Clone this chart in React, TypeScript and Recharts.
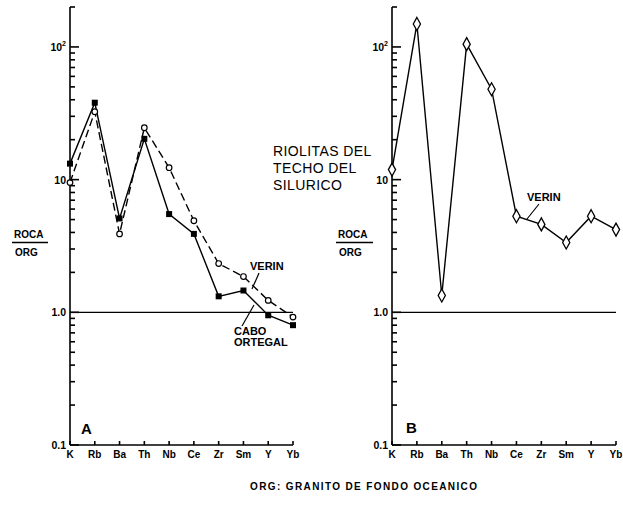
import React from 'react';
import { LineChart, Line, XAxis, YAxis, ReferenceLine } from 'recharts';

const elements = ['K', 'Rb', 'Ba', 'Th', 'Nb', 'Ce', 'Zr', 'Sm', 'Y', 'Yb'];
const caboOrtegalA = [13.2, 38, 5.1, 20.3, 5.5, 3.9, 1.32, 1.46, 0.95, 0.8];
const verinA = [9.5, 32.5, 3.9, 24.6, 12.3, 4.9, 2.33, 1.86, 1.23, 0.92];
const verinB = [11.9, 149, 1.34, 105, 48, 5.3, 4.6, 3.36, 5.3, 4.2];

const yTicks = [
  0.1, 0.2, 0.3, 0.4, 0.5, 0.6, 0.7, 0.8, 0.9,
  1, 2, 3, 4, 5, 6, 7, 8, 9,
  10, 20, 30, 40, 50, 60, 70, 80, 90,
  100, 200,
];
const majorTicks = [0.1, 1, 10, 100];
const majorLabels = ['0.1', '1.0', '10', '10'];

const dataA = elements.map((el, i) => ({ el, cabo: caboOrtegalA[i], verin: verinA[i] }));
const dataB = elements.map((el, i) => ({ el, verin: verinB[i] }));

const INK = '#000';
const FONT = '"Liberation Sans", Arial, Helvetica, sans-serif';

const YTick = (props: any) => {
  const { x, y, payload } = props;
  const v = payload.value;
  const mi = majorTicks.findIndex((m) => Math.abs(m - v) < 1e-9);
  const len = mi >= 0 ? 9 : 5;
  return (
    <g>
      <line x1={x} y1={y} x2={x + len} y2={y} stroke={INK} strokeWidth={1.6} />
      {mi >= 0 && (
        <text x={x - 4} y={y} dy={4} textAnchor="end" fontSize={10.5} fontWeight="bold" fill={INK} fontFamily={FONT}>
          {majorLabels[mi]}
          {v === 100 && (
            <tspan dy={-5} fontSize={7}>2</tspan>
          )}
        </text>
      )}
    </g>
  );
};

const XTick = (props: any) => {
  const { x, y, payload } = props;
  return (
    <text x={x} y={y + 13} textAnchor="middle" fontSize={10} fontWeight="bold" fill={INK} fontFamily={FONT}>
      {payload.value}
    </text>
  );
};

const SquareDot = (props: any) => {
  const { cx, cy, index } = props;
  if (cx == null || cy == null) return <g key={index} />;
  return <rect key={index} x={cx - 3} y={cy - 3} width={6} height={6} fill={INK} />;
};

const CircleDot = (props: any) => {
  const { cx, cy, index } = props;
  if (cx == null || cy == null) return <g key={index} />;
  return <circle key={index} cx={cx} cy={cy} r={2.8} fill="#fff" stroke={INK} strokeWidth={1.2} />;
};

const DiamondDot = (props: any) => {
  const { cx, cy, index } = props;
  if (cx == null || cy == null) return <g key={index} />;
  const w = 3.6;
  const h = 6.5;
  return (
    <polygon
      key={index}
      points={`${cx},${cy - h} ${cx + w},${cy} ${cx},${cy + h} ${cx - w},${cy}`}
      fill="#fff"
      stroke={INK}
      strokeWidth={1.3}
    />
  );
};

const yAxisProps = {
  type: 'number' as const,
  scale: 'log' as const,
  domain: [0.1, 200],
  ticks: yTicks,
  interval: 0,
  allowDataOverflow: true,
  tickSize: 0,
  tickMargin: 0,
  tickLine: false,
  axisLine: { stroke: INK, strokeWidth: 1.6 },
  tick: <YTick />,
};

const xAxisProps = {
  dataKey: 'el',
  interval: 0,
  tickSize: -4,
  tickMargin: 4,
  tickLine: { stroke: INK, strokeWidth: 1.6 },
  height: 35,
  axisLine: { stroke: INK, strokeWidth: 1.6 },
  tick: <XTick />,
};

export default function App() {
  return (
    <div style={{ position: 'absolute', left: 0, top: 0, width: 623, height: 506, background: '#fff', fontFamily: FONT }}>
      <div style={{ position: 'absolute', left: 0, top: 0 }}>
        <LineChart width={310} height={480} data={dataA} margin={{ top: 7, right: 17, bottom: 0, left: 0 }}>
          <XAxis {...xAxisProps} />
          <YAxis {...yAxisProps} width={70} />
          <ReferenceLine y={1} stroke={INK} strokeWidth={1.3} />
          <Line
            dataKey="verin"
            type="linear"
            stroke={INK}
            strokeWidth={1.4}
            strokeDasharray="8 4"
            dot={<CircleDot />}
            isAnimationActive={false}
          />
          <Line
            dataKey="cabo"
            type="linear"
            stroke={INK}
            strokeWidth={1.4}
            dot={<SquareDot />}
            isAnimationActive={false}
          />
        </LineChart>
      </div>
      <div style={{ position: 'absolute', left: 310, top: 0 }}>
        <LineChart width={313} height={480} data={dataB} margin={{ top: 7, right: 7, bottom: 0, left: 0 }}>
          <XAxis {...xAxisProps} />
          <YAxis {...yAxisProps} width={82} />
          <ReferenceLine y={1} stroke={INK} strokeWidth={1.3} />
          <Line
            dataKey="verin"
            type="linear"
            stroke={INK}
            strokeWidth={1.4}
            dot={<DiamondDot />}
            isAnimationActive={false}
          />
        </LineChart>
      </div>
      <svg
        width={623}
        height={506}
        style={{ position: 'absolute', left: 0, top: 0, pointerEvents: 'none' }}
        fontFamily={FONT}
        fill={INK}
      >
        <g fontSize={14} letterSpacing={0.4}>
          <text x={273} y={156}>RIOLITAS DEL</text>
          <text x={273} y={173}>TECHO DEL</text>
          <text x={273} y={190}>SILURICO</text>
        </g>
        <g fontSize={10} fontWeight="bold">
          <text x={14} y={238}>ROCA</text>
          <line x1={12} y1={242.5} x2={48} y2={242.5} stroke={INK} strokeWidth={1.3} />
          <text x={15} y={256}>ORG</text>
          <text x={338} y={238}>ROCA</text>
          <line x1={336} y1={242.5} x2={373} y2={242.5} stroke={INK} strokeWidth={1.3} />
          <text x={339} y={256}>ORG</text>
        </g>
        <g fontSize={11} fontWeight="bold">
          <text x={250} y={270}>VERIN</text>
          <line x1={259} y1={273} x2={252} y2={289} stroke={INK} strokeWidth={1.2} />
          <text x={234} y={335}>CABO</text>
          <text x={234} y={346}>ORTEGAL</text>
          <line x1={242} y1={326} x2={254} y2={305} stroke={INK} strokeWidth={1.2} />
          <text x={527} y={201}>VERIN</text>
          <line x1={539} y1={204} x2={527} y2={219} stroke={INK} strokeWidth={1.2} />
        </g>
        <g fontSize={15} fontWeight="bold">
          <text x={81} y={434}>A</text>
          <text x={406} y={433}>B</text>
        </g>
        <text x={250} y={490} fontSize={10} fontWeight="bold" textLength={227} lengthAdjust="spacing">
          ORG: GRANITO  DE  FONDO OCEANICO
        </text>
      </svg>
    </div>
  );
}
